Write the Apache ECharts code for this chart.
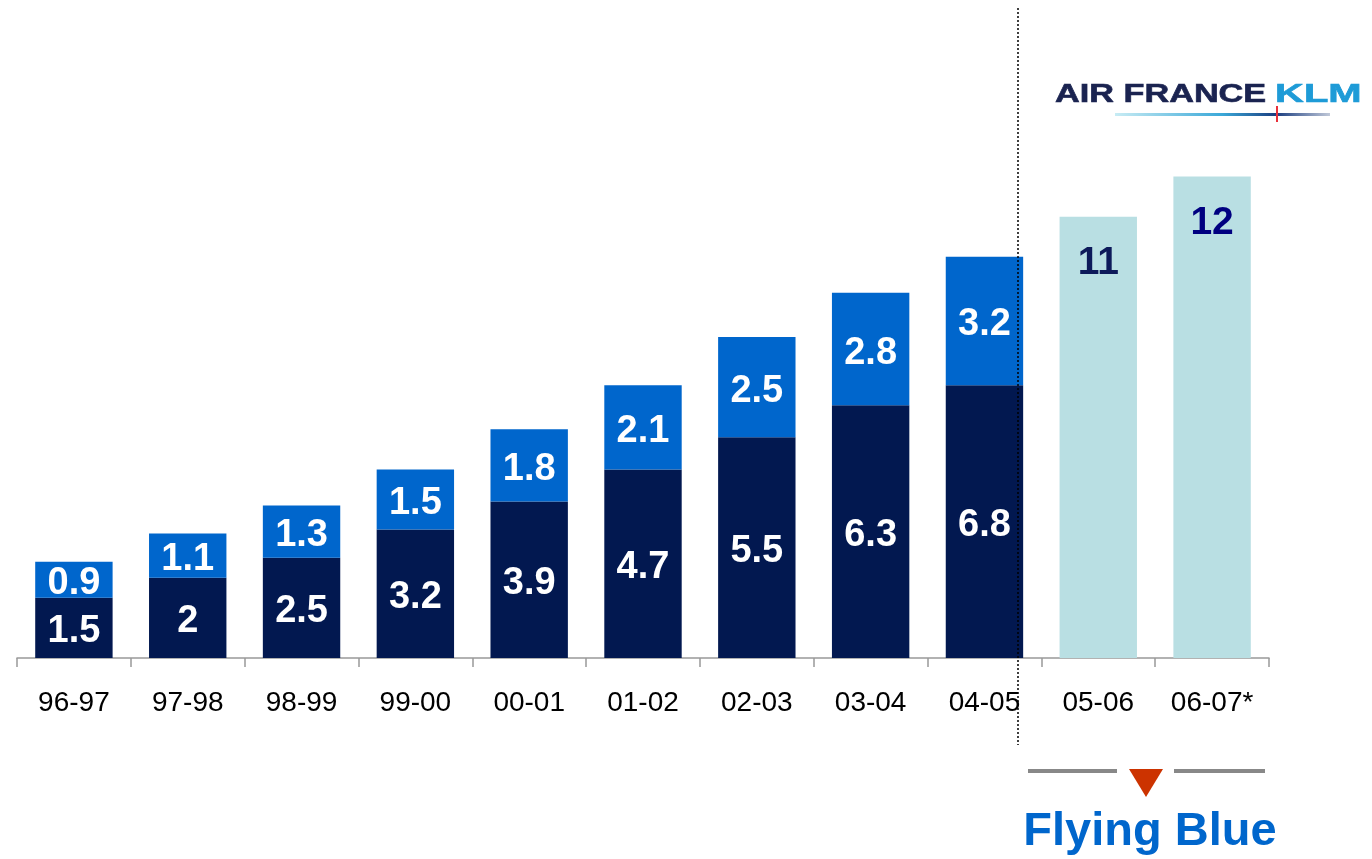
<!DOCTYPE html>
<html>
<head>
<meta charset="utf-8">
<script src="https://cdn.jsdelivr.net/npm/echarts@6/dist/echarts.min.js"></script>
<style>
html,body{margin:0;padding:0;background:#fff;}
#chart{width:1372px;height:859px;}
</style>
</head>
<body>
<div id="chart"></div>
<script>
const categories = ['96-97','97-98','98-99','99-00','00-01','01-02','02-03','03-04','04-05','05-06','06-07*'];
const baseValues = [1.5, 2, 2.5, 3.2, 3.9, 4.7, 5.5, 6.3, 6.8, '-', '-'];
const topValues = [0.9, 1.1, 1.3, 1.5, 1.8, 2.1, 2.5, 2.8, 3.2, '-', '-'];
const forecastValues = ['-', '-', '-', '-', '-', '-', '-', '-', '-', 11, 12];

const forecastLabelColors = { 9: '#0d1a5a', 10: '#000080' };
const forecastData = forecastValues.map((v, i) =>
  v === '-' ? v : { value: v, label: { color: forecastLabelColors[i] } });

const chart = echarts.init(document.getElementById('chart'));
const font = 'Liberation Sans, Arial, sans-serif';
const barLabel = {
  show: true, position: 'inside', offset: [0, 4], color: '#fff', fontSize: 38, fontWeight: 'bold', fontFamily: font
};

chart.setOption({
  animation: false,
  backgroundColor: '#fff',
  grid: { left: 17, right: 103, top: 16, bottom: 201, containLabel: false },
  xAxis: {
    type: 'category',
    data: categories,
    axisLine: { lineStyle: { color: '#999', width: 1.5 } },
    axisTick: { show: true, length: 9, lineStyle: { color: '#999', width: 1.5 } },
    axisLabel: { color: '#000', fontSize: 28, fontFamily: font, margin: 31 }
  },
  yAxis: {
    type: 'value', min: 0, max: 16, show: false,
    splitLine: { show: false }
  },
  series: [
    {
      name: 'base', type: 'bar', stack: 'a', data: baseValues, barCategoryGap: '32%',
      itemStyle: { color: '#021850' }, label: barLabel
    },
    {
      name: 'top', type: 'bar', stack: 'a', data: topValues,
      itemStyle: { color: '#0066CC' }, label: barLabel
    },
    {
      name: 'forecast', type: 'bar', stack: 'a', data: forecastData,
      itemStyle: { color: '#B9DFE3' },
      label: { show: true, position: 'insideTop', distance: 27, fontSize: 39, fontWeight: 'bold', fontFamily: font, color: '#0d1a5a' }
    }
  ],
  graphic: [
    { type: 'line', shape: { x1: 1018, y1: 8, x2: 1018, y2: 745 },
      style: { stroke: '#000', lineWidth: 1.5, lineDash: [2, 2] }, z: 10 },
    { type: 'line', shape: { x1: 1028, y1: 771, x2: 1117, y2: 771 },
      style: { stroke: '#888', lineWidth: 4 } },
    { type: 'line', shape: { x1: 1174, y1: 771, x2: 1265, y2: 771 },
      style: { stroke: '#888', lineWidth: 4 } },
    { type: 'polygon', shape: { points: [[1129, 769], [1163, 769], [1146, 797]] },
      style: { fill: '#CC3300' } },
    { type: 'text', x: 1150, y: 832,
      style: { text: 'Flying Blue', fill: '#0066CC', font: 'bold 47px ' + font, textAlign: 'center', textVerticalAlign: 'middle' } },
    { type: 'text', x: 1055, y: 95, scaleX: 1.37,
      style: { text: 'AIR FRANCE', fill: '#1a2350', font: 'bold 25px ' + font, textAlign: 'left', textVerticalAlign: 'middle', stroke: '#1a2350', lineWidth: 0.6 } },
    { type: 'text', x: 1275, y: 95, scaleX: 1.6,
      style: { text: 'KLM', fill: '#1E9BD7', font: 'bold 25px ' + font, textAlign: 'left', textVerticalAlign: 'middle', stroke: '#1E9BD7', lineWidth: 0.6 } },
    { type: 'rect', shape: { x: 1115, y: 113, width: 215, height: 3 },
      style: { fill: new echarts.graphic.LinearGradient(0, 0, 1, 0, [
        { offset: 0, color: '#c8ecf4' }, { offset: 0.5, color: '#3aa8d8' }, { offset: 0.75, color: '#1a3d80' }, { offset: 1, color: '#c0c8d8' }]) } },
    { type: 'line', shape: { x1: 1277, y1: 106, x2: 1277, y2: 122 },
      style: { stroke: '#e8303a', lineWidth: 2 } }
  ]
});
</script>
</body>
</html>
